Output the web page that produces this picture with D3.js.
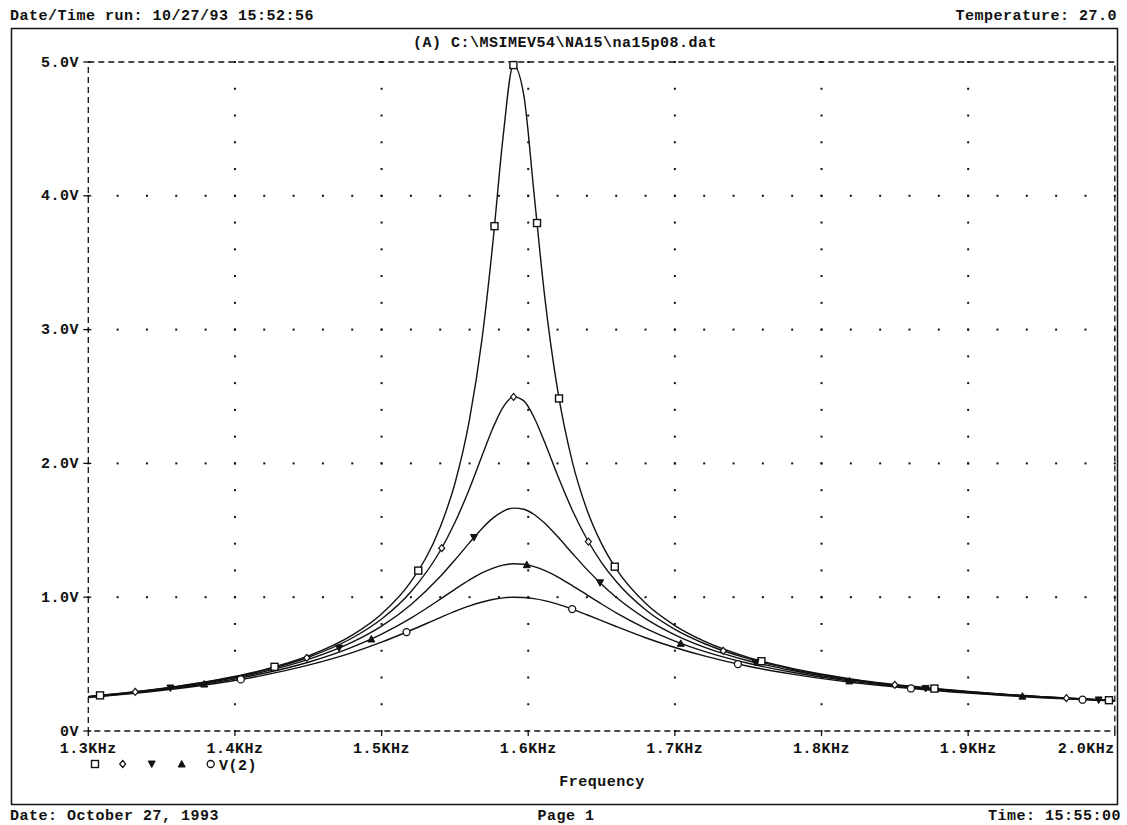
<!DOCTYPE html>
<html>
<head>
<meta charset="utf-8">
<title>na15p08.dat</title>
<script src="https://cdn.jsdelivr.net/npm/d3@7"></script>
<style>
  body { margin: 0; background: #fff; }
  text { font-family: "Liberation Mono", "Courier New", monospace; font-weight: bold; fill: #111; font-size: 15px; letter-spacing: 0.5px; }
</style>
</head>
<body>
<svg width="1127" height="825"></svg>
<script>
// sweep frequencies (KHz) and V(2) for the five runs
var freq = [1.30,1.33,1.36,1.39,1.42,1.45,1.48,1.50,1.52,1.54,1.55,1.56,1.5687,1.5757,1.5828,1.5899,1.5970,1.6040,1.6111,1.62,1.63,1.64,1.65,1.66,1.68,1.70,1.72,1.75,1.78,1.82,1.86,1.90,1.95,2.00];
var vSquare   = [0.258,0.291,0.333,0.387,0.459,0.561,0.717,0.875,1.116,1.524,1.850,2.330,2.947,3.629,4.435,4.977,4.751,4.013,3.260,2.551,2.015,1.654,1.400,1.211,0.954,0.788,0.671,0.550,0.467,0.390,0.336,0.295,0.257,0.228];
var vDiamond  = [0.257,0.290,0.331,0.383,0.453,0.551,0.695,0.837,1.041,1.347,1.558,1.813,2.062,2.259,2.419,2.497,2.467,2.343,2.161,1.911,1.652,1.435,1.259,1.117,0.906,0.760,0.654,0.541,0.461,0.386,0.333,0.294,0.256,0.227];
var vTriDown  = [0.255,0.287,0.327,0.378,0.444,0.535,0.664,0.784,0.944,1.154,1.278,1.408,1.516,1.589,1.642,1.666,1.657,1.618,1.554,1.453,1.329,1.208,1.097,0.999,0.840,0.719,0.627,0.525,0.452,0.381,0.330,0.291,0.254,0.226];
var vTriUp    = [0.253,0.284,0.322,0.370,0.432,0.514,0.627,0.724,0.844,0.985,1.059,1.129,1.183,1.216,1.240,1.250,1.246,1.229,1.200,1.152,1.087,1.018,0.949,0.883,0.767,0.672,0.595,0.506,0.439,0.373,0.325,0.288,0.252,0.225];
var vCircle   = [0.250,0.280,0.316,0.361,0.418,0.492,0.586,0.664,0.753,0.848,0.894,0.935,0.964,0.983,0.995,1.000,0.998,0.989,0.974,0.948,0.911,0.869,0.825,0.781,0.697,0.624,0.561,0.484,0.425,0.364,0.319,0.283,0.249,0.223];

// where the markers sit on each trace (KHz)
var mSquare  = [1.308,1.427,1.525,1.577,1.5899,1.606,1.621,1.659,1.759,1.877,1.996];
var mDiamond = [1.332,1.449,1.541,1.590,1.641,1.733,1.850,1.967];
var mTriDown = [1.356,1.471,1.563,1.649,1.755,1.871,1.989];
var mTriUp   = [1.379,1.493,1.599,1.704,1.819,1.937];
var mCircle  = [1.404,1.517,1.630,1.743,1.861,1.978];

var xTicks = [1.3,1.4,1.5,1.6,1.7,1.8,1.9,2.0];
var xTickLabels = ["1.3KHz","1.4KHz","1.5KHz","1.6KHz","1.7KHz","1.8KHz","1.9KHz","2.0KHz"];
var yTicks = [0,1,2,3,4,5];
var yTickLabels = ["0V","1.0V","2.0V","3.0V","4.0V","5.0V"];

var svg = d3.select("svg");
var ink = "#111";

var x = d3.scaleLinear().domain([1.3,2.0]).range([88.3,1114.8]);
var y = d3.scaleLinear().domain([0,5]).range([731,62]);

// page frame
svg.append("rect")
    .attr("x",11.5).attr("y",28.5)
    .attr("width",1106).attr("height",776)
    .attr("fill","none").attr("stroke",ink).attr("stroke-width",1.5);

// header / footer
svg.append("text").attr("x",10).attr("y",20).text("Date/Time run: 10/27/93 15:52:56");
svg.append("text").attr("x",1117).attr("y",20).attr("text-anchor","end").text("Temperature: 27.0");
svg.append("text").attr("x",565).attr("y",47).attr("text-anchor","middle").text("(A) C:\\MSIMEV54\\NA15\\na15p08.dat");
svg.append("text").attr("x",10).attr("y",820).text("Date: October 27, 1993");
svg.append("text").attr("x",566).attr("y",820).attr("text-anchor","middle").text("Page 1");
svg.append("text").attr("x",1121).attr("y",820).attr("text-anchor","end").text("Time: 15:55:00");

// dotted grid
var grid = svg.append("g").attr("fill",ink);
xTicks.slice(1,-1).forEach(function(t){
    d3.range(0,5.001,0.2).forEach(function(v){
        grid.append("rect").attr("x",x(t)-1).attr("y",y(v)-1).attr("width",2).attr("height",2);
    });
});
yTicks.slice(1,-1).forEach(function(v){
    d3.range(1.3,2.0001,0.02).forEach(function(t){
        grid.append("rect").attr("x",x(t)-1).attr("y",y(v)-1).attr("width",2).attr("height",2);
    });
});

// dashed plot border
svg.append("rect")
    .attr("x",x(1.3)).attr("y",y(5))
    .attr("width",x(2.0)-x(1.3)).attr("height",y(0)-y(5))
    .attr("fill","none").attr("stroke",ink).attr("stroke-width",1.3)
    .attr("stroke-dasharray","6,4");

// ticks and labels
var axis = svg.append("g");
axis.selectAll(".xt").data(xTicks).enter().append("line")
    .attr("x1",d=>x(d)).attr("x2",d=>x(d))
    .attr("y1",y(0)).attr("y2",y(0)+5)
    .attr("stroke",ink).attr("stroke-width",1.3);
axis.selectAll(".xl").data(xTicks).enter().append("text")
    .attr("x",d=>x(d)).attr("y",753)
    .attr("text-anchor",(d,i)=>i==xTicks.length-1?"end":"middle")
    .text((d,i)=>xTickLabels[i]);
axis.selectAll(".yt").data(yTicks).enter().append("line")
    .attr("x1",x(1.3)-5).attr("x2",x(1.3)+3)
    .attr("y1",d=>y(d)).attr("y2",d=>y(d))
    .attr("stroke",ink).attr("stroke-width",1.3);
axis.selectAll(".yl").data(yTicks).enter().append("text")
    .attr("x",79).attr("y",d=>y(d))
    .attr("dy","0.3em")
    .attr("text-anchor","end")
    .text((d,i)=>yTickLabels[i]);
svg.append("text").attr("x",602).attr("y",786).attr("text-anchor","middle").text("Frequency");

// traces
var series = [
    {vals:vSquare,  marks:mSquare,  shape:"square"},
    {vals:vDiamond, marks:mDiamond, shape:"diamond"},
    {vals:vTriDown, marks:mTriDown, shape:"tridown"},
    {vals:vTriUp,   marks:mTriUp,   shape:"triup"},
    {vals:vCircle,  marks:mCircle,  shape:"circle"}
];

var line = d3.line()
    .x(d=>x(d[0]))
    .y(d=>y(d[1]))
    .curve(d3.curveMonotoneX);

function drawMarker(g, shape, cx, cy){
    if(shape=="square"){
        g.append("rect").attr("x",cx-3.5).attr("y",cy-3.5).attr("width",7).attr("height",7)
            .attr("fill","#fff").attr("stroke",ink).attr("stroke-width",1.4);
    } else if(shape=="diamond"){
        g.append("path").attr("d",`M${cx},${cy-3.5}L${cx+3},${cy}L${cx},${cy+3.5}L${cx-3},${cy}Z`)
            .attr("fill","#fff").attr("stroke",ink).attr("stroke-width",1.2);
    } else if(shape=="tridown"){
        g.append("path").attr("d",`M${cx-3.5},${cy-3}L${cx+3.5},${cy-3}L${cx},${cy+3.5}Z`)
            .attr("fill",ink).attr("stroke",ink).attr("stroke-width",1);
    } else if(shape=="triup"){
        g.append("path").attr("d",`M${cx-3.5},${cy+3}L${cx+3.5},${cy+3}L${cx},${cy-3.5}Z`)
            .attr("fill",ink).attr("stroke",ink).attr("stroke-width",1);
    } else {
        g.append("circle").attr("cx",cx).attr("cy",cy).attr("r",3.5)
            .attr("fill","#fff").attr("stroke",ink).attr("stroke-width",1.3);
    }
}

// find the point of a drawn path at a given screen x
function pointAtX(node, px){
    var lo = 0, hi = node.getTotalLength(), p;
    for(var k=0;k<40;k++){
        var mid = (lo+hi)/2;
        p = node.getPointAtLength(mid);
        if(p.x<px) lo = mid; else hi = mid;
    }
    return p;
}

var traces = svg.append("g");
series.forEach(function(s){
    var pts = freq.map((f,i)=>[f,s.vals[i]]);
    traces.append("path")
        .attr("d",line(pts))
        .attr("fill","none")
        .attr("stroke",ink)
        .attr("stroke-width",1.4);
});
var markerLayer = svg.append("g");
traces.selectAll("path").each(function(d,i){
    var node = this, s = series[i];
    s.marks.forEach(function(f){
        var p = pointAtX(node, x(f));
        drawMarker(markerLayer, s.shape, p.x, p.y);
    });
});

// legend
var legendX = [95,122.7,151.7,181.7,210.7];
series.forEach(function(s,i){
    drawMarker(svg, s.shape, legendX[i], 764);
});
svg.append("text").attr("x",219).attr("y",770).text("V(2)");
</script>
</body>
</html>
